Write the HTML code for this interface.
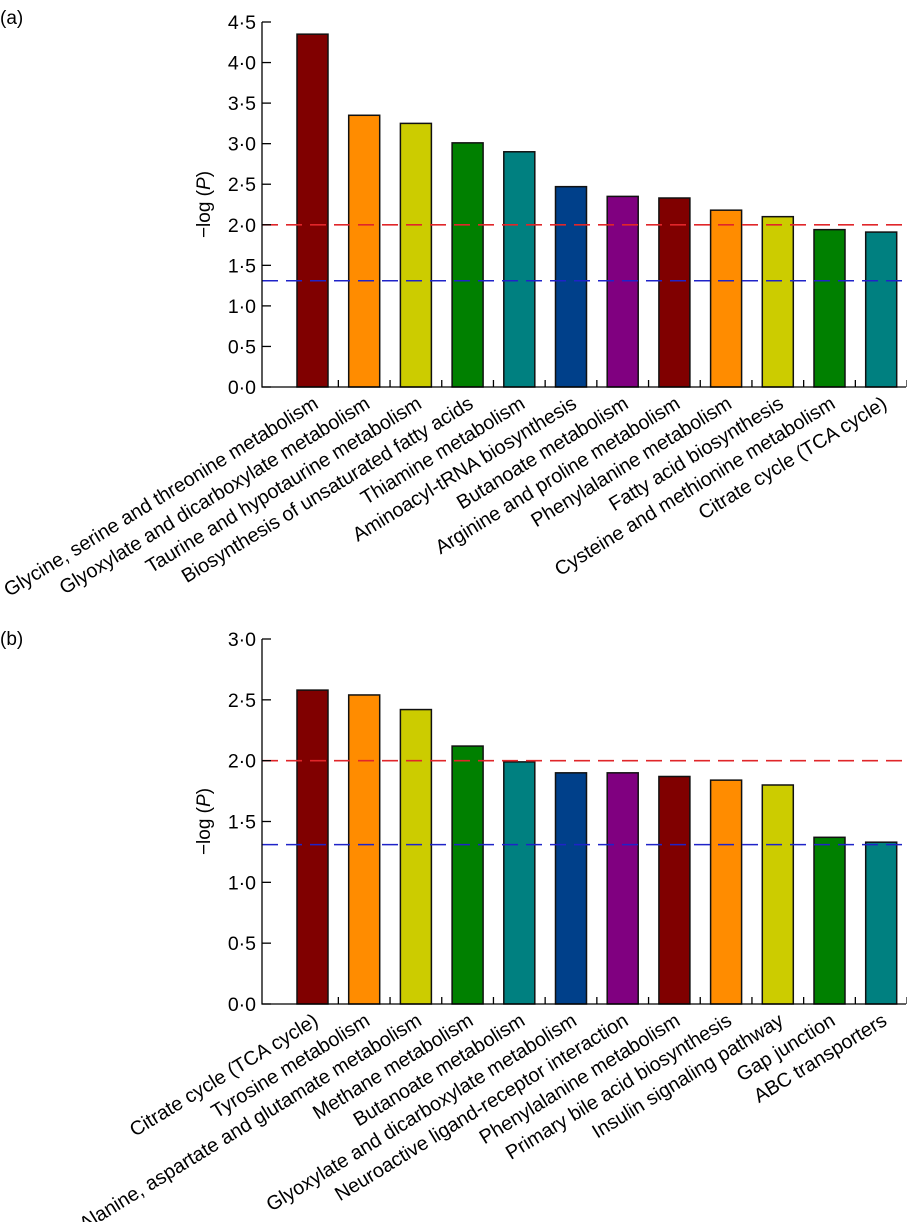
<!DOCTYPE html>
<html><head><meta charset="utf-8"><style>
html,body{margin:0;padding:0;background:#fff;}
svg{display:block;font-family:"Liberation Sans",Arial,sans-serif;}
</style></head><body>
<svg id="chart" width="907" height="1222" viewBox="0 0 907 1222">
<text x="0" y="24" font-size="19">(a)</text>
<text x="0" y="645" font-size="19">(b)</text>
</svg>
<script>
const catsA = ["Glycine, serine and threonine metabolism","Glyoxylate and dicarboxylate metabolism","Taurine and hypotaurine metabolism","Biosynthesis of unsaturated fatty acids","Thiamine metabolism","Aminoacyl-tRNA biosynthesis","Butanoate metabolism","Arginine and proline metabolism","Phenylalanine metabolism","Fatty acid biosynthesis","Cysteine and methionine metabolism","Citrate cycle (TCA cycle)"];
const valsA = [4.35,3.35,3.25,3.01,2.90,2.47,2.35,2.33,2.18,2.10,1.94,1.91];
const ticksA = ["0·0","0·5","1·0","1·5","2·0","2·5","3·0","3·5","4·0","4·5"];
const catsB = ["Citrate cycle (TCA cycle)","Tyrosine metabolism","Alanine, aspartate and glutamate metabolism","Methane metabolism","Butanoate metabolism","Glyoxylate and dicarboxylate metabolism","Neuroactive ligand-receptor interaction","Phenylalanine metabolism","Primary bile acid biosynthesis","Insulin signaling pathway","Gap junction","ABC transporters"];
const valsB = [2.58,2.54,2.42,2.12,1.99,1.90,1.90,1.87,1.84,1.80,1.37,1.33];
const ticksB = ["0·0","0·5","1·0","1·5","2·0","2·5","3·0"];
const thresholds = [2.0, 1.31];
const colors = ["#800000","#ff8c00","#cccc00","#008000","#008080","#00408a","#800080","#800000","#ff8c00","#cccc00","#008000","#008080"];

const NS="http://www.w3.org/2000/svg";
const svg=document.getElementById('chart');
function mk(tag,attrs,parent){const e=document.createElementNS(NS,tag);for(const k in attrs)e.setAttribute(k,attrs[k]);(parent||svg).appendChild(e);return e;}

function panel(id,cats,vals,ticks,y0,yTop,maxV){
  const g=mk('g',{});
  
  
  const xL=262,xR=906,bw=31,step=51.7,x0=297;
  const y=v=>y0-(y0-yTop)*v/maxV;
  const xc=i=>x0+i*step+bw/2;
  vals.forEach((v,i)=>{
    const r=mk('rect',{x:x0+i*step,y:y(v),width:bw,height:y0-y(v),fill:colors[i],stroke:'#111','stroke-width':1.5},g);
    
    
  });
  const tc=['#e0262a','#1f23c8'];
  thresholds.forEach((t,k)=>{
    const l=mk('line',{x1:xL,x2:xR,y1:y(t),y2:y(t),stroke:tc[k],'stroke-width':1.6,'stroke-dasharray':'16,8'},g);
    
    
  });
  const ax=mk('path',{d:`M${xL},${yTop} V${y0} H${xR}`,fill:'none',stroke:'#000','stroke-width':1.3},g);
  
  
  ticks.forEach((t,i)=>{
    const v=i*0.5,yy=y(v);
    mk('line',{x1:xL,x2:xL+9,y1:yy,y2:yy,stroke:'#000','stroke-width':1.3},g);
    const tx=mk('text',{x:xL-6,y:yy+7,'font-size':19.5,'text-anchor':'end'},g);
    tx.textContent=t;
    
    
  });
  for(let i=1;i<=cats.length;i++){
    const xx=x0+i*step-(step-bw)/2;
    mk('line',{x1:xx,x2:xx,y1:y0,y2:y0-7,stroke:'#000','stroke-width':1.3},g);
  }
  cats.forEach((c,i)=>{
    const ax2=xc(i)+7, ay=y0+20;
    const tx=mk('text',{x:ax2,y:ay,'font-size':19.8,'text-anchor':'end',transform:`rotate(-31.5 ${ax2} ${ay})`},g);
    tx.textContent=c;
    
    
  });
  const ym=(y0+yTop)/2;
  const yl=mk('text',{x:210,y:ym,'font-size':19,'text-anchor':'middle',transform:`rotate(-90 210 ${ym})`},g);
  yl.innerHTML='−log (<tspan font-style="italic">P</tspan>)';
  
  
}
panel('panel-a',catsA,valsA,ticksA,387,22,4.5);
panel('panel-b',catsB,valsB,ticksB,1004,639,3.0);
</script>
</body></html>
